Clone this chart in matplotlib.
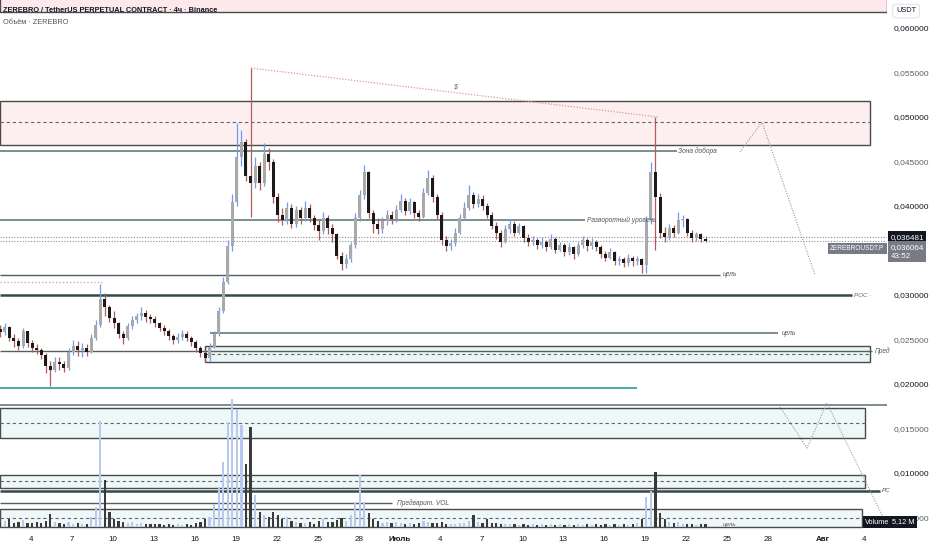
import numpy as np
import matplotlib
matplotlib.use("Agg")
import matplotlib.pyplot as plt
from matplotlib import transforms
from matplotlib.patches import Rectangle

plt.rcParams['font.family'] = ['Liberation Sans', 'DejaVu Sans']

# prices in thousandths of USDT, 8h bars from 1 June 16:00 to 23 July 08:00
first_open = 26.2
close = [25.8,
         26.4, 25.2, 24.8, 24.3, 25.9, 24.6, 24.1, 23.8, 23.3, 22.0, 21.6, 22.5,
         22.2, 21.8, 23.6, 24.3, 23.8, 24.1, 23.6, 25.2, 26.6, 29.6, 28.6, 27.4,
         26.8, 25.6, 25.2, 26.5, 27.2, 27.6, 28.0, 27.5, 27.3, 26.8, 26.3, 25.9,
         25.4, 24.9, 25.3, 25.6, 25.2, 24.7, 24.0, 23.5, 22.9, 24.2, 25.6, 28.2,
         31.5, 35.5, 40.5, 45.5, 47.2, 43.4, 42.6, 44.5, 42.6, 45.8, 45.0, 41.0,
         39.0, 38.4, 39.8, 38.0, 39.5, 38.6, 39.8, 38.6, 37.9, 37.2, 38.6, 37.5,
         36.8, 34.4, 33.5, 34.0, 35.6, 38.6, 41.2, 43.8, 39.2, 38.0, 37.4, 38.3,
         39.0, 38.5, 39.6, 40.6, 39.4, 40.4, 39.2, 38.8, 41.5, 43.2, 41.0, 39.0,
         36.2, 35.5, 35.8, 37.0, 38.6, 39.8, 41.2, 40.2, 40.8, 40.0, 39.0, 37.8,
         37.0, 36.0, 37.4, 38.0, 37.0, 37.7, 36.4, 35.9, 36.2, 35.6, 36.0, 35.4,
         36.3, 35.1, 35.6, 34.8, 35.4, 34.6, 35.6, 36.2, 35.5, 36.0, 35.4, 34.6,
         34.2, 34.8, 33.8, 34.0, 33.6, 34.2, 33.8, 34.0, 33.4, 38.4, 43.8, 41.0,
         37.0, 36.5, 37.5, 37.0, 38.4, 38.5, 37.0, 36.4, 36.8, 36.3, 36.064]
high = [26.6,
        26.9, 26.5, 25.6, 25.2, 26.3, 26.0, 24.9, 24.5, 24.0, 23.5, 22.6, 23.0,
        23.0, 22.6, 24.0, 25.0, 24.8, 24.6, 24.5, 25.6, 27.2, 31.2, 30.2, 28.9,
        28.2, 27.0, 26.0, 26.9, 27.6, 28.0, 28.6, 28.3, 27.9, 27.6, 27.0, 26.6,
        26.2, 25.6, 25.7, 26.1, 25.9, 25.4, 24.9, 24.3, 23.8, 24.6, 26.0, 28.6,
        32.0, 36.2, 41.3, 49.3, 48.5, 47.5, 55.5, 45.5, 45.0, 47.1, 46.5, 45.3,
        41.5, 39.8, 40.5, 40.2, 40.0, 39.9, 40.6, 40.2, 39.0, 38.4, 39.3, 39.0,
        38.0, 37.0, 34.8, 34.6, 36.0, 39.2, 41.8, 44.6, 43.9, 39.6, 38.6, 38.8,
        39.6, 39.4, 40.1, 41.4, 40.9, 40.9, 40.6, 39.6, 42.0, 44.0, 43.5, 41.4,
        39.3, 36.6, 36.3, 37.5, 39.1, 40.4, 42.4, 41.6, 41.3, 41.2, 40.3, 39.3,
        38.2, 37.3, 37.9, 38.5, 38.3, 38.1, 37.9, 36.8, 36.6, 36.4, 36.5, 36.2,
        36.8, 36.5, 36.0, 35.8, 35.8, 35.5, 36.0, 36.6, 36.4, 36.4, 36.2, 35.6,
        34.9, 35.3, 35.0, 34.4, 34.3, 34.6, 34.4, 34.4, 34.2, 38.9, 44.9, 50.0,
        41.5, 37.6, 38.0, 37.9, 39.3, 39.0, 38.7, 37.3, 37.1, 37.0, 36.6]
low = [25.3,
       25.5, 24.8, 24.2, 23.8, 24.1, 24.2, 23.6, 23.4, 22.8, 21.2, 19.8, 21.3,
       21.6, 21.3, 21.6, 23.3, 23.2, 23.0, 23.2, 23.5, 25.0, 26.4, 27.6, 27.0,
       26.3, 25.2, 24.5, 25.0, 26.2, 26.9, 27.2, 27.0, 26.8, 26.4, 25.9, 25.5,
       25.0, 24.5, 24.6, 25.0, 24.8, 24.3, 23.6, 23.0, 22.5, 22.6, 24.0, 25.4,
       28.0, 31.2, 35.0, 40.0, 44.5, 42.8, 38.8, 42.0, 41.8, 42.3, 44.0, 40.3,
       38.2, 37.9, 38.0, 37.5, 37.6, 38.0, 38.3, 38.2, 37.3, 36.2, 36.9, 36.8,
       36.0, 34.0, 32.8, 33.0, 33.7, 35.3, 38.3, 40.8, 38.6, 37.0, 36.9, 37.0,
       37.9, 38.0, 38.2, 39.3, 39.0, 39.1, 38.7, 38.3, 38.6, 41.2, 40.4, 38.5,
       35.6, 35.0, 35.1, 35.5, 36.8, 38.4, 39.5, 39.8, 39.9, 39.5, 38.6, 37.4,
       36.3, 35.4, 35.8, 37.0, 36.6, 36.8, 36.0, 35.5, 35.6, 35.2, 35.3, 35.0,
       35.2, 34.7, 34.9, 34.4, 34.5, 34.1, 34.4, 35.3, 35.0, 35.2, 35.0, 34.2,
       33.8, 34.0, 33.4, 33.4, 33.2, 33.3, 33.3, 33.4, 32.5, 32.5, 38.0, 35.1,
       36.4, 36.0, 36.2, 36.5, 36.8, 37.6, 36.6, 36.0, 36.1, 35.9, 35.9]
# volume per bar, millions
volume_m = [8,
            12, 16, 8, 10, 14, 8, 8, 10, 8, 12, 26, 10,
            8, 6, 10, 6, 8, 6, 6, 20, 40, 212, 94, 30,
            16, 12, 10, 8, 10, 6, 8, 6, 6, 6, 6, 4,
            6, 4, 6, 4, 6, 4, 8, 10, 16, 20, 46, 80,
            130, 210, 256, 236, 204, 126, 200, 64, 30, 24, 20, 30,
            24, 16, 20, 12, 10, 8, 8, 10, 6, 12, 16, 10,
            10, 14, 18, 12, 24, 50, 104, 50, 28, 16, 12, 8,
            10, 8, 10, 8, 6, 8, 6, 8, 12, 10, 8, 8,
            10, 6, 6, 6, 8, 8, 12, 24, 10, 8, 16, 8,
            8, 6, 6, 6, 6, 4, 6, 4, 6, 4, 6, 4,
            6, 4, 6, 4, 6, 4, 6, 4, 6, 4, 6, 4,
            6, 4, 6, 4, 6, 4, 6, 8, 16, 60, 72, 110,
            28, 16, 10, 8, 10, 6, 6, 6, 4, 6, 5.12]

# horizontal levels (thousandths)
sell_zone = [46.85, 51.8, 49.44]
top_zone = [61.8, 63.5]
level_add = 46.18
level_reversal = 38.43
level_target1 = 32.25
level_poc = 30.0
level_old_high = 31.46
level_target2 = 25.73
level_pred = 23.71
pred_zone = [22.47, 24.27, 23.37]
level_teal = 19.55
level_vol_top = 17.64
vol_zone1 = [13.93, 17.30, 15.62]
vol_zone2 = [8.31, 9.78, 9.10]
level_pc = 7.98
level_vol_pre = 6.63
vol_zone3 = [3.93, 5.955, 4.94]
last_price = 36.481
trend_pts = [(19.12, 55.5), (48.93, 50.0)]
path_up = [(54.94, 46.07), (56.55, 49.44), (60.44, 32.25)]
path_down = [(57.87, 17.42), (59.85, 12.81), (61.31, 17.87), (65.42, 5.06)]

tick_days = [3, 6, 9, 12, 15, 18, 21, 24, 27, 30, 33, 36, 39, 42, 45, 48, 51, 54, 57, 61, 64]
tick_names = ['4', '7', '10', '13', '16', '19', '22', '25', '28', 'Июль', '4', '7', '10',
              '13', '16', '19', '22', '25', '28', 'Авг', '4']

c = np.array(close) / 1000
h = np.array(high) / 1000
l = np.array(low) / 1000
o = np.concatenate([[first_open / 1000], c[:-1]])
t = 2 / 3 + np.arange(len(c)) / 3 + 1 / 12
up = c >= o

X0, X1 = 0.729, 65.71
fig = plt.figure(figsize=(9.32, 5.5), dpi=100)
ax = fig.add_axes([0, 20 / 550, 887 / 932, 530 / 550])
ax.set_xlim(X0, X1)
ax.set_ylim(0.003596, 0.063146)
for s in ax.spines.values():
    s.set_visible(False)

k = 1 / 1000
edge = '#4a4a4a'
lvl = '#56706c'


def box(lo, hi, x1, fc, mid=None, x0=X0):
    ax.add_patch(Rectangle((x0, lo * k), x1 - x0, (hi - lo) * k, fc=fc, ec=edge, lw=1.0, zorder=1))
    if mid is not None:
        ax.hlines(mid * k, x0, x1, colors='#666666', lw=0.8, linestyles=(0, (3, 2.5)), zorder=1)


def label(x, y, s, size=4.8, color='#555555'):
    ax.text(x, y * k, s, fontsize=size, style='italic', color=color, va='center', ha='left',
            clip_on=False, zorder=6)


box(top_zone[0], top_zone[1], X1, '#fde9ec')
box(sell_zone[0], sell_zone[1], 64.47, '#fdeef0', sell_zone[2])
box(pred_zone[0], pred_zone[1], 64.47, '#e8f6f6', pred_zone[2], x0=15.75)
box(vol_zone1[0], vol_zone1[1], 64.10, '#eef8f8', vol_zone1[2])
box(vol_zone2[0], vol_zone2[1], 64.10, '#eef8f8', vol_zone2[2])
box(vol_zone3[0], vol_zone3[1], 63.90, '#eef8f8', vol_zone3[2])

ax.hlines(level_add * k, X0, 50.3, colors=lvl, lw=1.1, zorder=2)
label(50.4, level_add, 'Зона добора')
ax.hlines(level_reversal * k, X0, 43.6, colors=lvl, lw=1.1, zorder=2)
label(43.73, level_reversal, 'Разворотный уровень')
ax.hlines(level_target1 * k, X0, 53.5, colors='#4f5f5c', lw=1.0, zorder=2)
label(53.7, level_target1, 'цель')
ax.hlines(level_poc * k, X0, 63.15, colors='#2e4c48', lw=1.8, zorder=2)
label(63.3, level_poc, 'POC ·', size=4.5, color='#666666')
ax.hlines(level_old_high * k, X0, 8.35, colors='#e0a5aa', lw=1.0, linestyles=(0, (1, 1.5)), zorder=2)
ax.hlines(level_target2 * k, 16.1, 57.7, colors=lvl, lw=1.1, zorder=2)
label(58.0, level_target2, 'цель')
ax.hlines(level_pred * k, X0, 64.6, colors='#555f5e', lw=1.0, zorder=2)
label(64.8, level_pred, 'Пред')
ax.hlines(level_teal * k, X0, 47.4, colors='#2a9d8f', lw=1.2, zorder=2)
ax.hlines(level_vol_top * k, X0, X1, colors=lvl, lw=1.1, zorder=2)
ax.hlines(level_pc * k, X0, 65.2, colors='#2e4c48', lw=1.8, zorder=2)
label(65.3, level_pc, 'PC', size=4.5)
ax.hlines(level_vol_pre * k, X0, 29.45, colors='#555f5e', lw=1.0, zorder=2)
label(29.8, level_vol_pre, 'Предварит. VOL')
label(53.7, vol_zone3[0] + 0.25, 'цель', size=4.5)

for pts in (path_up, path_down):
    xs, ys = zip(*pts)
    ax.plot(xs, np.array(ys) * k, color='#9a9a9a', lw=0.8, ls=(0, (1, 1.3)), zorder=2)
xs, ys = zip(*trend_pts)
ax.plot(xs, np.array(ys) * k, color='#d99aa0', lw=0.9, ls=(0, (1, 1.3)), zorder=2)
ax.text(34.06, 53.37 * k, '$', fontsize=5, color='#666666', style='italic', ha='center', va='center')

ax.hlines([last_price * k, c[-1]], X0, X1, colors='#8a8a8a', lw=0.8, linestyles=(0, (1, 1.5)), zorder=2)

# candles
ax.vlines(t, l, h, colors=np.where(up, '#6d9cf2', '#b65b5b'), lw=0.9, zorder=3)
body = np.maximum(np.abs(c - o), 0.00005)
ax.bar(t, body, bottom=np.minimum(o, c), width=0.22, color=np.where(up, '#a9a9a9', '#1a1a1a'),
       zorder=4, linewidth=0)

# volume overlay
axv = ax.twinx()
axv.set_ylim(-6, 1054)
axv.bar(t, volume_m, width=0.16, color=np.where(up, '#b7c9ee', '#3a3a3a'), linewidth=0)
axv.axis('off')

# axes text
ax.yaxis.tick_right()
yt = [v / 1000 for v in [5, 10, 15, 20, 25, 30, 40, 45, 50, 55, 60]]
ax.set_yticks(yt)
ax.set_yticklabels([('%.6f' % v).replace('.', ',') for v in yt])
for v, lab in zip(yt, ax.get_yticklabels()):
    major = round(v * 1000) % 10 == 0
    lab.set_color('#131722' if major else '#5d606b')
    lab.set_fontsize(6.0)
ax.tick_params(axis='y', length=0, pad=4.5)
ax.set_xticks(tick_days)
ax.set_xticklabels(tick_names)
for lab in ax.get_xticklabels():
    lab.set_fontsize(5.8)
    lab.set_color('#131722')
    if lab.get_text() in ('Июль', 'Авг'):
        lab.set_fontweight('bold')
ax.tick_params(axis='x', length=0, pad=4)

tr = transforms.blended_transform_factory(ax.transAxes, ax.transData)
ax.text(1.004, last_price * k, '0,036481', transform=tr, fontsize=5.8, color='white', va='center',
        ha='left', clip_on=False, zorder=10,
        bbox=dict(boxstyle='square,pad=0.3', fc='#131722', ec='none'))
ax.text(1.004, 0.03575, '0,036064\n43:52', transform=tr, fontsize=5.8, color='white',
        va='top', ha='left', linespacing=1.4, clip_on=False, zorder=10,
        bbox=dict(boxstyle='square,pad=0.3', fc='#787b86', ec='none'))
ax.text(0.997, 0.03522, 'ZEREBROUSDT.P', transform=tr, fontsize=4.7, color='white', va='center',
        ha='right', clip_on=False, zorder=10,
        bbox=dict(boxstyle='square,pad=0.35', fc='#787b86', ec='none'))

fig.text(3 / 932, 1 - 11 / 550, 'ZEREBRO / TetherUS PERPETUAL CONTRACT · 4ч · Binance', fontsize=5.3,
         fontweight='bold', color='#131722', va='center', ha='left')
fig.text(3 / 932, 1 - 23 / 550, 'Объём · ZEREBRO', fontsize=5.3, color='#555555', va='center', ha='left')
fig.text(896 / 932, 1 - 11 / 550, 'USDT', fontsize=5.3, color='#131722', va='center', ha='left',
         bbox=dict(boxstyle='round,pad=0.45', fc='white', ec='#e0e3eb', lw=0.8))
fig.text(865 / 932, 1 - 522 / 550, 'Volume', fontsize=5.3, color='white', va='center', ha='left',
         bbox=dict(boxstyle='square,pad=0.3', fc='#131722', ec='none'))
fig.text(892 / 932, 1 - 522 / 550, '5,12 M', fontsize=5.3, color='white', va='center', ha='left',
         bbox=dict(boxstyle='square,pad=0.3', fc='#131722', ec='none'))

fig.savefig('out.png', dpi=100, facecolor='white')
